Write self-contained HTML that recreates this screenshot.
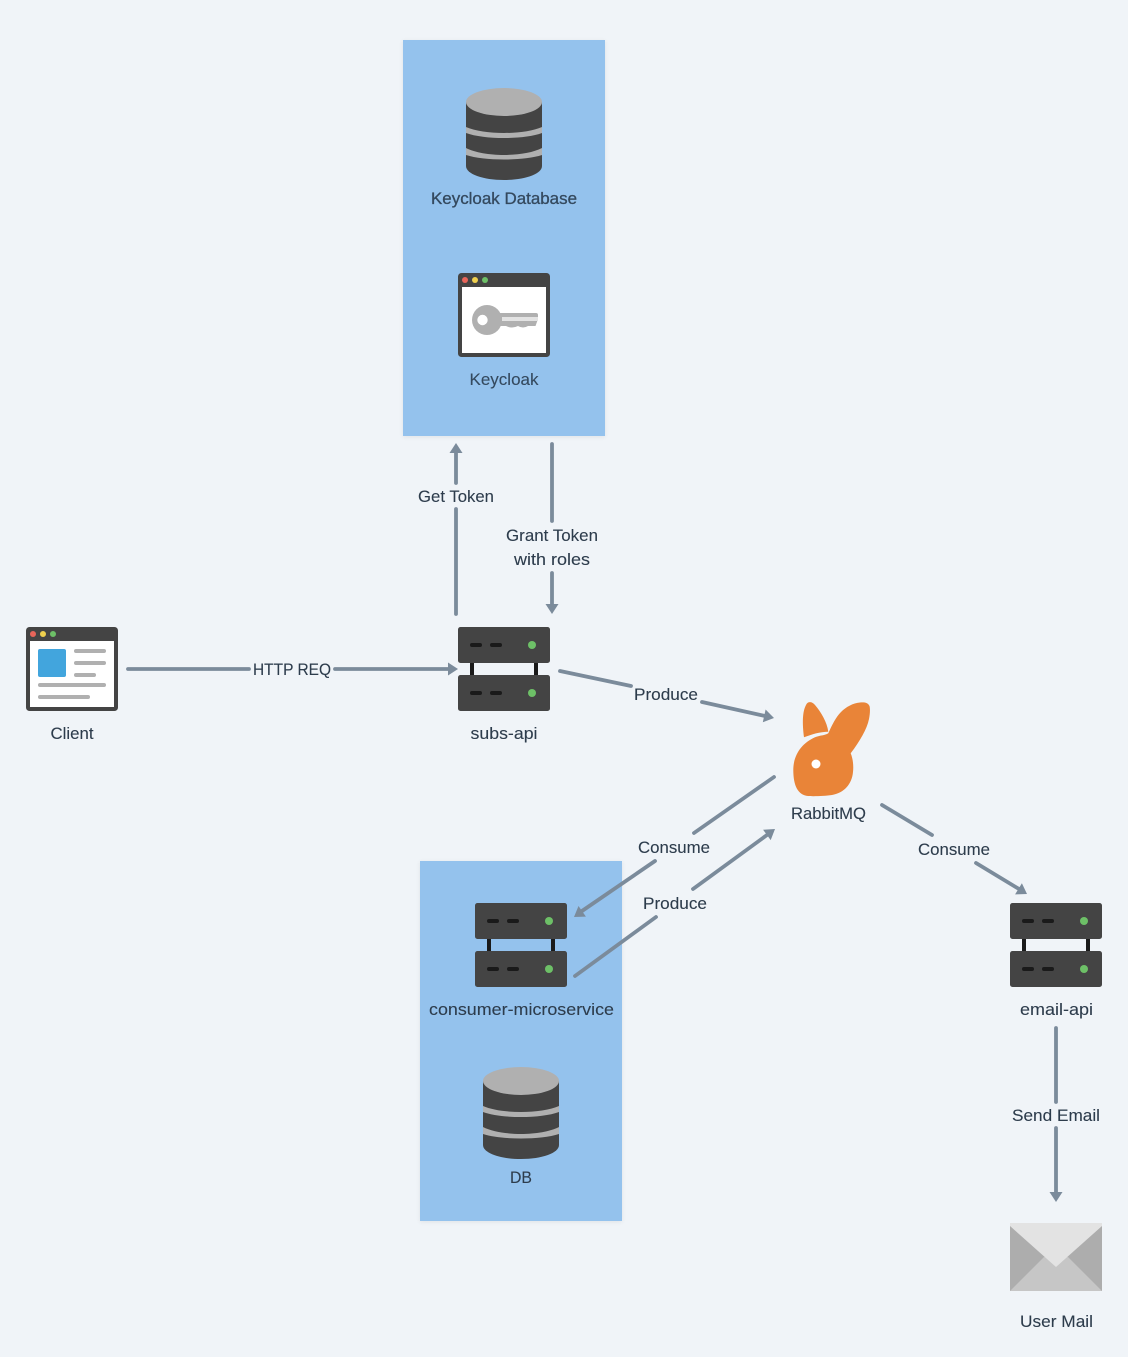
<!DOCTYPE html>
<html><head><meta charset="utf-8"><style>
html,body{margin:0;padding:0;background:#f0f4f8}
svg{display:block}
text{font-family:"Liberation Sans",sans-serif;font-size:17px;fill:#2d3c4c;stroke:#2d3c4c;stroke-width:.1;text-anchor:middle}
.l{stroke:#7b8b9b;stroke-width:3.8;stroke-linecap:round;fill:none}
.h{fill:#7b8b9b}
</style></head><body>
<svg width="1128" height="1357" viewBox="0 0 1128 1357" xmlns="http://www.w3.org/2000/svg">
<defs>
<filter id="s" x="-5%" y="-5%" width="110%" height="110%"><feDropShadow dx="0" dy="1" stdDeviation="2" flood-color="#000" flood-opacity=".07"/></filter>
<g id="server">
<rect x="12" y="30" width="4" height="20" fill="#1a1a1a"/><rect x="76" y="30" width="4" height="20" fill="#1a1a1a"/>
<rect x="0" y="0" width="92" height="36" rx="2.5" fill="#444"/><rect x="0" y="48" width="92" height="36" rx="2.5" fill="#444"/>
<rect x="12" y="16" width="12" height="4" rx="2" fill="#1a1a1a"/><rect x="32" y="16" width="12" height="4" rx="2" fill="#1a1a1a"/>
<rect x="12" y="64" width="12" height="4" rx="2" fill="#1a1a1a"/><rect x="32" y="64" width="12" height="4" rx="2" fill="#1a1a1a"/>
<circle cx="74" cy="18" r="4" fill="#6dc067"/><circle cx="74" cy="66" r="4" fill="#6dc067"/>
</g>
<g id="db">
<path d="M0 14V78C0 86 17 92 38 92S76 86 76 78V14Z" fill="#444"/>
<ellipse cx="38" cy="14" rx="38" ry="14" fill="#b0b0b0"/>
<path d="M0 39C18 47 58 47 76 39V45C58 51.700 18 51.700 0 45Z" fill="#b0b0b0"/>
<path d="M0 60C18 69.300 58 69.300 76 60V67C58 73 18 73 0 67Z" fill="#b0b0b0"/>
</g>
<g id="win">
<rect x="0" y="0" width="92" height="84" rx="3.5" fill="#444"/>
<rect x="4" y="14" width="84" height="66" fill="#fff"/>
<circle cx="7" cy="7" r="3" fill="#e8655a"/><circle cx="17" cy="7" r="3" fill="#efd04e"/><circle cx="27" cy="7" r="3" fill="#6dc067"/>
</g>
</defs>
<rect width="1128" height="1357" fill="#f0f4f8"/>
<rect x="403" y="40" width="202" height="396" fill="#94c2ed" filter="url(#s)"/>
<rect x="420" y="861" width="202" height="360" fill="#94c2ed" filter="url(#s)"/>

<use href="#db" x="466" y="88"/>
<use href="#db" x="483" y="1067"/>

<use href="#win" x="458" y="273"/>
<circle cx="487" cy="320" r="15" fill="#b0b0b0"/>
<circle cx="482.500" cy="320" r="5.200" fill="#fff"/>
<path d="M497 313H536Q538 313 538 315V319L535.500 326H528Q523 329 518 326Q512 329 506 326H497Z" fill="#b0b0b0"/>
<rect x="502" y="317" width="36" height="4" fill="#e3e3e3"/>

<use href="#win" x="26" y="627"/>
<rect x="38" y="649" width="28" height="28" rx="2" fill="#42a5dd"/>
<g fill="#b0b0b0">
<rect x="74" y="649" width="32" height="4" rx="2"/><rect x="74" y="661" width="32" height="4" rx="2"/><rect x="74" y="673" width="22" height="4" rx="2"/>
<rect x="38" y="683" width="68" height="4" rx="2"/><rect x="38" y="695" width="52" height="4" rx="2"/>
</g>

<use href="#server" x="458" y="627"/>
<use href="#server" x="475" y="903"/>
<use href="#server" x="1010" y="903"/>

<g fill="#e98438">
<path d="M804 737.300C802.700 726.700 801.700 713 806 705C808 701 812 701.500 815 705C821 712 827 722 828.300 731.700C820 731.700 811.700 734.300 804 737.300Z"/>
<path d="M828.300 733.300C832 725 836 717 841 712C846 707 853 703 860 702.500C864 702 868 702.500 869.500 706C870.300 709 870 714 869 719C867 729 860 741 850.700 753.300C853 759 853.700 766 853 772C852 784 844 793 832 795C825 796 813 796.500 808 796C798 795 793.300 786 793.300 770C793.300 755 801.700 743.300 815 737.300C820 735.300 825 735.500 828.300 733.300Z"/>
</g>
<circle cx="816" cy="764" r="4.500" fill="#fff"/>

<rect x="1010" y="1223" width="92" height="68" fill="#adadad"/>
<path d="M1010 1291L1044 1257H1068L1102 1291Z" fill="#c6c6c6"/>
<path d="M1010 1223H1102V1226L1056 1267L1010 1226Z" fill="#e3e3e3"/>

<path class="l" d="M128 669H249M335 669H449"/>
<path class="l" d="M456 614V509M456 483V452"/>
<path class="l" d="M552 444V521M552 573V605"/>
<path class="l" d="M560 671L631 686M702 702L765 716"/>
<path class="l" d="M774 777L694 833M655 861L582 911"/>
<path class="l" d="M575 976L656 917M693 889L767 835"/>
<path class="l" d="M882 805L932 835M976 863L1019 889"/>
<path class="l" d="M1056 1028V1102M1056 1128V1193"/>

<g class="h">
<polygon points="458,669 448,662.500 448,675.500"/>
<polygon points="456,443 449.500,453 462.500,453"/>
<polygon points="552,614 545.500,604 558.500,604"/>
<polygon points="774,718 762.800,722.200 765.600,709.500"/>
<polygon points="574,917 585.900,916.600 578.500,906"/>
<polygon points="775,829 770.700,840.100 763.100,829.700"/>
<polygon points="1027,894 1015.100,894.400 1021.900,883.200"/>
<polygon points="1056,1202 1049.500,1192 1062.500,1192"/>
</g>

<text x="504" y="204" textLength="146" lengthAdjust="spacingAndGlyphs" style="fill:#34495e;stroke:#34495e;stroke-width:.3">Keycloak Database</text>
<text x="504" y="385" textLength="69" lengthAdjust="spacingAndGlyphs" style="fill:#34495e;stroke:#34495e">Keycloak</text>
<text x="72" y="739" textLength="43" lengthAdjust="spacingAndGlyphs">Client</text>
<text x="504" y="739" textLength="67" lengthAdjust="spacingAndGlyphs">subs-api</text>
<text x="292" y="675" textLength="78" lengthAdjust="spacingAndGlyphs">HTTP REQ</text>
<text x="456" y="502" textLength="76" lengthAdjust="spacingAndGlyphs">Get Token</text>
<text x="552" y="541" textLength="92" lengthAdjust="spacingAndGlyphs">Grant Token</text>
<text x="552" y="565" textLength="76" lengthAdjust="spacingAndGlyphs">with roles</text>
<text x="666" y="700" textLength="64" lengthAdjust="spacingAndGlyphs">Produce</text>
<text x="828.500" y="819" textLength="75" lengthAdjust="spacingAndGlyphs">RabbitMQ</text>
<text x="674" y="853" textLength="72" lengthAdjust="spacingAndGlyphs">Consume</text>
<text x="675" y="909" textLength="64" lengthAdjust="spacingAndGlyphs">Produce</text>
<text x="954" y="855" textLength="72" lengthAdjust="spacingAndGlyphs">Consume</text>
<text x="521.500" y="1015" textLength="185" lengthAdjust="spacingAndGlyphs">consumer-microservice</text>
<text x="521" y="1183" textLength="22" lengthAdjust="spacingAndGlyphs">DB</text>
<text x="1056.500" y="1015" textLength="73" lengthAdjust="spacingAndGlyphs">email-api</text>
<text x="1056" y="1121" textLength="88" lengthAdjust="spacingAndGlyphs">Send Email</text>
<text x="1056.500" y="1327" textLength="73" lengthAdjust="spacingAndGlyphs">User Mail</text>
</svg>
</body></html>
